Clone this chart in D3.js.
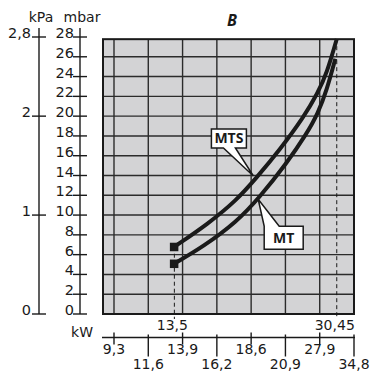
<!DOCTYPE html>
<html>
<head>
<meta charset="utf-8">
<script src="https://cdn.jsdelivr.net/npm/d3@7"></script>
<style>
  body { margin: 0; background: #fff; }
  svg { display: block; }
  text { font-family: 'DejaVu Sans', sans-serif; fill: #1a1a1a; }
</style>
</head>
<body>
<script>
'use strict'

// values
const mbarTicks = [0, 2, 4, 6, 8, 10, 12, 14, 16, 18, 20, 22, 24, 26, 28]
const kpaTicks = [0, 1, 2, 2.8]
const kwTicks = ['9,3', '11,6', '13,9', '16,2', '18,6', '20,9', '27,9', '34,8']
const limitsKw = [13.5, 30.45]

const mtsKw = [13.5, 17.0, 20.0, 22.1, 24.5, 27.0, 28.45, 29.4, 30.45]
const mtsMbar = [6.8, 9.1, 11.5, 13.8, 16.6, 19.9, 22.3, 24.3, 27.8]
const mtKw = [13.5, 16.5, 20.0, 22.4, 25.2, 27.3, 28.5, 29.4, 30.3]
const mtMbar = [5.1, 6.8, 9.3, 11.8, 15.2, 18.2, 20.3, 22.6, 25.8]

const width = 370
const height = 372
const plot = { left: 103, right: 354, top: 39, bottom: 314 }

const svg = d3.select('body').append('svg')
    .attr('width', width).attr('height', height)

// main kW scale (the one the 13,5 / 30,45 marks live on)
const x = d3.scaleLinear().domain([6.05, 32.25]).range([plot.left, plot.right])
// the lower kW axis is an evenly spaced label scale
const xLow = d3.scalePoint().domain(kwTicks).range([114, plot.right])
const y = d3.scaleLinear().domain([0, 28]).range([plot.bottom, 37])
const frameTop = y(27.78)

// plot background + grid
svg.append('rect')
    .attr('x', plot.left).attr('y', frameTop)
    .attr('width', plot.right - plot.left).attr('height', plot.bottom - frameTop)
    .attr('fill', '#d3d3d5')

const grid = svg.append('g').attr('stroke', '#2b2b2b').attr('stroke-width', 1.4)
grid.selectAll('line.h')
    .data(mbarTicks.filter(d => d > 0 && d < 28))
    .join('line')
    .attr('x1', plot.left).attr('x2', plot.right)
    .attr('y1', d => y(d)).attr('y2', d => y(d))
grid.selectAll('line.v')
    .data(kwTicks.slice(0, -1))
    .join('line')
    .attr('x1', d => xLow(d)).attr('x2', d => xLow(d))
    .attr('y1', frameTop).attr('y2', plot.bottom)

svg.append('rect')
    .attr('x', plot.left).attr('y', frameTop)
    .attr('width', plot.right - plot.left).attr('height', plot.bottom - frameTop)
    .attr('fill', 'none').attr('stroke', '#1a1a1a').attr('stroke-width', 2)

// dashed limit lines
svg.selectAll('line.limit')
    .data(limitsKw)
    .join('line')
    .attr('x1', d => x(d)).attr('x2', d => x(d))
    .attr('y1', (d, i) => i === 0 ? y(mtsMbar[0]) : frameTop)
    .attr('y2', plot.bottom + 5)
    .attr('stroke', '#1a1a1a').attr('stroke-width', 1)
    .attr('stroke-dasharray', '4,3')

svg.selectAll('text.limit')
    .data(limitsKw)
    .join('text')
    .attr('x', d => x(d) - 2).attr('y', 330)
    .attr('text-anchor', 'middle')
    .attr('font-size', 14)
    .text(d => String(d).replace('.', ','))

// curves
const line = d3.line()
    .x(d => x(d[0])).y(d => y(d[1]))
    .curve(d3.curveBasis)

const series = [
    { name: 'MTS', pts: d3.zip(mtsKw, mtsMbar) },
    { name: 'MT', pts: d3.zip(mtKw, mtMbar) }
]

svg.selectAll('path.curve')
    .data(series)
    .join('path')
    .attr('d', d => line(d.pts))
    .attr('fill', 'none')
    .attr('stroke', '#1a1a1a')
    .attr('stroke-width', 4)

svg.selectAll('rect.marker')
    .data(series)
    .join('rect')
    .attr('x', d => x(d.pts[0][0]) - 4.5)
    .attr('y', d => y(d.pts[0][1]) - 4)
    .attr('width', 8.5).attr('height', 8.5)
    .attr('fill', '#1a1a1a')

// callouts
function callout(tip, label, box, base) {
    const tx = x(tip[0])
    const ty = y(tip[1])
    const g = svg.append('g')
    let p
    if (box.below) {
        p = `M${tx + box.x0},${ty + box.y0} L${tx},${ty} L${tx + base[1]},${ty + box.y0}
             H${tx + box.x1} V${ty + box.y1} H${tx + box.x0} Z`
    } else {
        p = `M${tx + box.x0},${ty + box.y0} H${tx + box.x1} V${ty + box.y1}
             H${tx + base[1]} L${tx},${ty} L${tx + base[0]},${ty + box.y1} H${tx + box.x0} Z`
    }
    g.append('path').attr('d', p)
        .attr('fill', '#fff').attr('stroke', '#1a1a1a').attr('stroke-width', 1.5)
        .attr('stroke-linejoin', 'miter')
    g.append('text')
        .attr('x', tx + (box.x0 + box.x1) / 2)
        .attr('y', ty + (box.y0 + box.y1) / 2 + 5)
        .attr('text-anchor', 'middle')
        .style('font-family', "'Open Sans', sans-serif")
        .attr('font-weight', 'bold')
        .attr('font-size', 14)
        .text(label)
}

callout([21.75, 13.95], 'MTS', { x0: -42, x1: -7, y0: -47, y1: -28 }, [-30, -18])
callout([22.25, 11.6], 'MT', { x0: 6, x1: 45, y0: 27, y1: 50, below: true }, [6, 21])

// left axes: mbar and kPa
const mbarX = 80
const kpaX = 39

svg.append('line')
    .attr('x1', mbarX).attr('x2', mbarX)
    .attr('y1', 28).attr('y2', y(0))
    .attr('stroke', '#1a1a1a').attr('stroke-width', 1.4)
svg.selectAll('line.mbar')
    .data(mbarTicks)
    .join('line')
    .attr('x1', mbarX - 7).attr('x2', mbarX + 7)
    .attr('y1', d => y(d)).attr('y2', d => y(d))
    .attr('stroke', '#1a1a1a').attr('stroke-width', 1.4)
svg.selectAll('text.mbar')
    .data(mbarTicks)
    .join('text')
    .attr('x', mbarX - 6).attr('y', d => y(d) + 1)
    .attr('text-anchor', 'end')
    .attr('font-size', 14.5)
    .text(d => d)

svg.append('line')
    .attr('x1', kpaX).attr('x2', kpaX)
    .attr('y1', 28).attr('y2', y(0))
    .attr('stroke', '#1a1a1a').attr('stroke-width', 1.4)
svg.selectAll('line.kpa')
    .data(kpaTicks)
    .join('line')
    .attr('x1', kpaX - 7).attr('x2', kpaX + 7)
    .attr('y1', d => y(d * 10)).attr('y2', d => y(d * 10))
    .attr('stroke', '#1a1a1a').attr('stroke-width', 1.4)
svg.selectAll('text.kpa')
    .data(kpaTicks)
    .join('text')
    .attr('x', kpaX - 8).attr('y', d => y(d * 10) + 1)
    .attr('text-anchor', 'end')
    .attr('font-size', 14.5)
    .text(d => String(d).replace('.', ','))

svg.append('text').attr('x', 41).attr('y', 22)
    .attr('text-anchor', 'middle').attr('font-size', 14).text('kPa')
svg.append('text').attr('x', 82).attr('y', 22)
    .attr('text-anchor', 'middle').attr('font-size', 14).text('mbar')

// title
svg.append('text')
    .attr('x', 232).attr('y', 26)
    .attr('text-anchor', 'middle')
    .style('font-family', "'Open Sans', sans-serif")
    .attr('font-weight', 'bold').attr('font-style', 'italic')
    .attr('font-size', 16)
    .text('B')

// lower kW axis
const axisY = 337.5
svg.append('line')
    .attr('x1', 102).attr('x2', plot.right + 1)
    .attr('y1', axisY).attr('y2', axisY)
    .attr('stroke', '#1a1a1a').attr('stroke-width', 1.4)
svg.selectAll('line.kw')
    .data(kwTicks)
    .join('line')
    .attr('x1', d => xLow(d)).attr('x2', d => xLow(d))
    .attr('y1', (d, i) => i % 2 ? axisY - 3 : axisY - 5)
    .attr('y2', (d, i) => i % 2 ? axisY + 19 : axisY + 7)
    .attr('stroke', '#1a1a1a').attr('stroke-width', 1.4)
svg.selectAll('text.kw')
    .data(kwTicks)
    .join('text')
    .attr('x', d => xLow(d)).attr('y', (d, i) => i % 2 ? 369 : 354)
    .attr('text-anchor', 'middle')
    .attr('font-size', 14)
    .text(d => d)
svg.append('text').attr('x', 93).attr('y', 337)
    .attr('text-anchor', 'end').attr('font-size', 14).text('kW')
</script>
</body>
</html>
